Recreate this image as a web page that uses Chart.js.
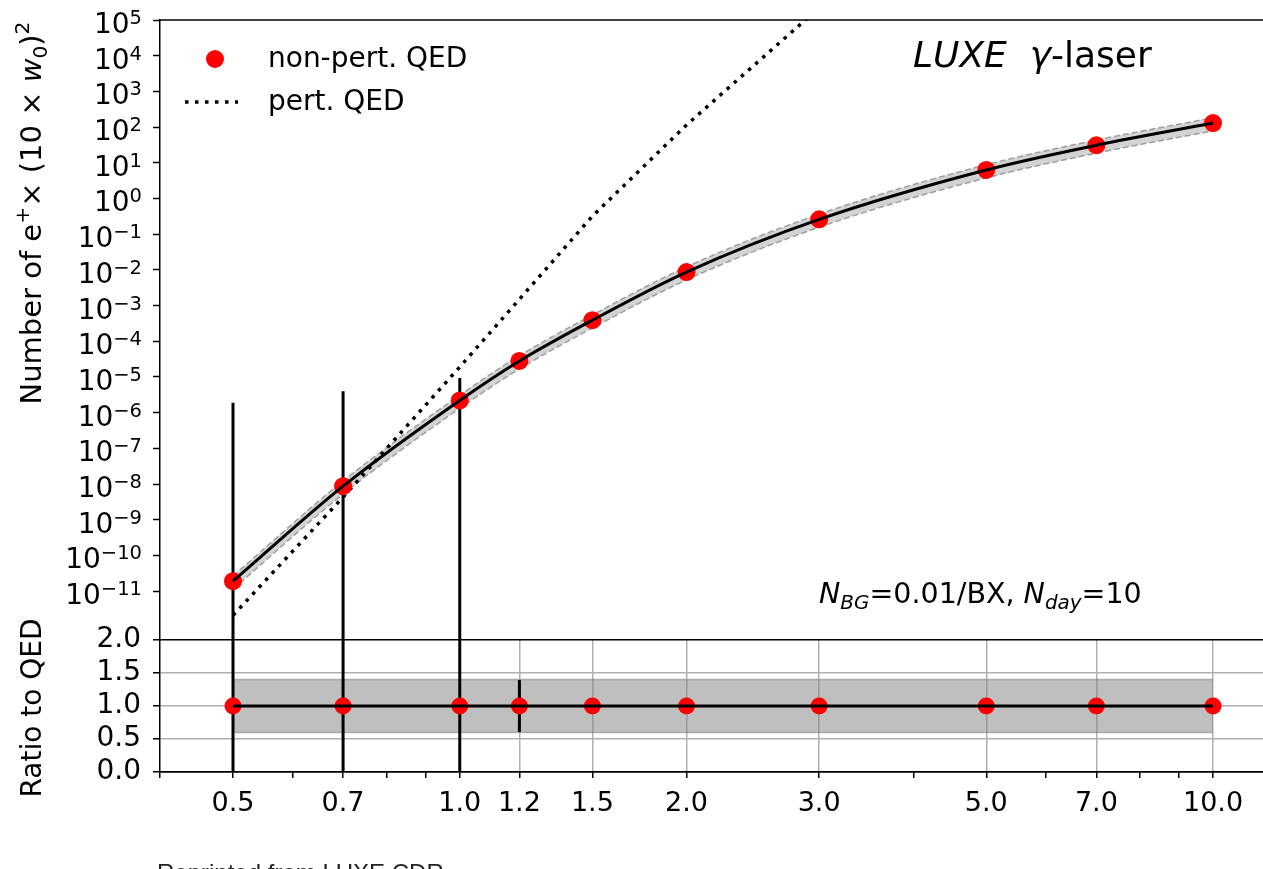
<!DOCTYPE html>
<html>
<head>
<meta charset="utf-8">
<script src="https://cdn.jsdelivr.net/npm/chart.js@4.4.1/dist/chart.umd.min.js"></script>
<style>
html, body { margin: 0; padding: 0; background: #fff; }
#wrap { position: relative; width: 1263px; height: 869px; overflow: hidden; }
canvas { position: absolute; left: 0; }
#top { top: 0; }
#bottom { top: 620px; }
</style>
</head>
<body>
<div id="wrap">
  <canvas id="top" width="1263" height="645"></canvas>
  <canvas id="bottom" width="1263" height="249"></canvas>
</div>
<script>
// laser intensity xi and positron yield (non-perturbative QED)
const xi = [0.5, 0.7, 1.0, 1.2, 1.5, 2.0, 3.0, 5.0, 7.0, 10.0];
const nonPert = [1.9e-11, 8.7e-9, 2.2e-6, 2.8e-5, 3.9e-4, 8.7e-3, 0.26, 6.3, 31, 130];
// relative uncertainty band
const bandLo = [0.6, 0.6, 0.6, 0.6, 0.6, 0.6, 0.6, 0.6, 0.6, 0.6];
const bandHi = [1.4, 1.4, 1.4, 1.4, 1.4, 1.4, 1.4, 1.4, 1.4, 1.4];
// ratio of non-pert to QED
const ratio = [1, 1, 1, 1, 1, 1, 1, 1, 1, 1];
// perturbative QED
const pertX = [0.5, 0.7, 1.0, 1.2, 1.5, 2.0, 3.0];
const pert = [2.1e-12, 4.3e-9, 1.9e-5, 1.5e-3, 0.32, 115, 2.2e5];
// statistical error bars (background-limited)
const errX = [0.5, 0.7, 1.0, 1.2];
const errLo = [1e-13, 1e-13, 1e-13, 1.7e-5];
const errHi = [1.9e-6, 4.0e-6, 9.3e-6, 3.9e-5];
// ticks
const yTickExps = [-11, -10, -9, -8, -7, -6, -5, -4, -3, -2, -1, 0, 1, 2, 3, 4, 5];
const ratioTicks = [0, 0.5, 1.0, 1.5, 2.0];
const xTicks = [0.5, 0.7, 1.0, 1.2, 1.5, 2.0, 3.0, 5.0, 7.0, 10.0];
const xMinorTicks = [0.4, 0.6, 0.8, 0.9, 4, 6, 8, 9];

const F = "'DejaVu Sans'";
Chart.defaults.font.family = F;
Chart.defaults.color = '#000';

function drawRuns(ctx, runs, x, y, size) {
  for (const [t, k] of runs) {
    const small = k === 'sup' || k === 'sub' || k === 'isub';
    const ital = k === 'i' || k === 'isub';
    ctx.font = (ital ? 'italic ' : '') + (small ? size * 0.7 : size) + 'px ' + F;
    let dy = 0;
    if (k === 'sup') dy = -size * 0.4;
    if (k === 'sub' || k === 'isub') dy = size * 0.2;
    ctx.fillText(t, x, y + dy);
    x += ctx.measureText(t).width;
  }
  return x;
}
function runsWidth(ctx, runs, size) {
  let w = 0;
  for (const [t, k] of runs) {
    const small = k === 'sup' || k === 'sub' || k === 'isub';
    const ital = k === 'i' || k === 'isub';
    ctx.font = (ital ? 'italic ' : '') + (small ? size * 0.7 : size) + 'px ' + F;
    w += ctx.measureText(t).width;
  }
  return w;
}

const pts = (xs, ys) => xs.map((x, i) => ({ x: x, y: ys[i] }));
const valAt = x => nonPert[xi.indexOf(x)];

// ---------- top panel ----------
const topSets = [
  { data: pts(xi, nonPert), borderColor: '#000', borderWidth: 3, pointRadius: 0,
    cubicInterpolationMode: 'monotone', order: 0 },
  { data: pts(xi, nonPert), showLine: false, pointRadius: 9, pointBorderWidth: 0,
    pointBackgroundColor: '#ff0000', order: 1 },
  { data: pts(pertX, pert), borderColor: '#000', borderWidth: 3.5, borderDash: [3.5, 6],
    pointRadius: 0, order: 3 },
  { data: xi.map((x, i) => ({ x: x, y: nonPert[i] * bandHi[i] })), borderColor: 'rgba(128,128,128,0.7)',
    borderWidth: 1.5, borderDash: [6, 3], pointRadius: 0, cubicInterpolationMode: 'monotone',
    fill: '+1', backgroundColor: 'rgba(128,128,128,0.35)', order: 4 },
  { data: xi.map((x, i) => ({ x: x, y: nonPert[i] * bandLo[i] })), borderColor: 'rgba(128,128,128,0.7)',
    borderWidth: 1.5, borderDash: [6, 3], pointRadius: 0, cubicInterpolationMode: 'monotone', order: 5 }
];
errX.forEach((x, i) => {
  topSets.push({ data: [{ x: x, y: errLo[i] }, { x: x, y: errHi[i] }], borderColor: '#000',
    borderWidth: 3, pointRadius: 0, order: 2 });
});

const topDecor = {
  id: 'topDecor',
  afterDraw(chart) {
    const ctx = chart.ctx, a = chart.chartArea, ys = chart.scales.y;
    ctx.save();
    ctx.strokeStyle = '#000'; ctx.lineWidth = 1.5;
    ctx.beginPath(); ctx.moveTo(a.left, a.top); ctx.lineTo(a.right, a.top); ctx.stroke();
    ctx.fillStyle = '#000';
    ctx.textBaseline = 'alphabetic'; ctx.textAlign = 'left';
    // y tick labels 10^n
    yTickExps.forEach(e => {
      const py = ys.getPixelForValue(Math.pow(10, e));
      const exp = e < 0 ? '\u2212' + (-e) : String(e);
      ctx.font = '19.5px ' + F; const we = ctx.measureText(exp).width;
      ctx.font = '28px ' + F; const wb = ctx.measureText('10').width;
      const x0 = 142 - we - wb;
      ctx.fillText('10', x0, py + 13);
      ctx.font = '19.5px ' + F; ctx.fillText(exp, x0 + wb, py + 4);
    });
    // y axis title
    const yt = [['Number of e', 'n'], ['+', 'sup'], ['\u00d7 (10 \u00d7 ', 'n'], ['w', 'i'],
                ['0', 'sub'], [')', 'n'], ['2', 'sup']];
    ctx.save(); ctx.translate(41, 213); ctx.rotate(-Math.PI / 2);
    drawRuns(ctx, yt, -runsWidth(ctx, yt, 29) / 2, 0, 29);
    ctx.restore();
    // legend
    ctx.beginPath(); ctx.arc(215, 59, 9, 0, Math.PI * 2); ctx.fillStyle = '#ff0000'; ctx.fill();
    ctx.setLineDash([3.5, 6.5]); ctx.lineWidth = 3.5; ctx.strokeStyle = '#000';
    ctx.beginPath(); ctx.moveTo(185, 102); ctx.lineTo(238, 102); ctx.stroke();
    ctx.setLineDash([]);
    ctx.fillStyle = '#000'; ctx.font = '28px ' + F;
    ctx.fillText('non-pert. QED', 268, 67);
    ctx.fillText('pert. QED', 268, 110);
    // title and annotation
    drawRuns(ctx, [['LUXE', 'i'], ['  ', 'n'], ['\u03b3', 'i'], ['-laser', 'n']], 913, 67, 36);
    drawRuns(ctx, [['N', 'i'], ['BG', 'isub'], ['=0.01/BX, ', 'n'], ['N', 'i'], ['day', 'isub'], ['=10', 'n']],
      819, 603, 28.5);
    ctx.restore();
  }
};

new Chart(document.getElementById('top'), {
  type: 'line',
  data: { datasets: topSets },
  options: {
    responsive: false, animation: false, events: [],
    layout: { padding: { top: 20, bottom: 5, left: 0, right: 0 }, autoPadding: false },
    plugins: { legend: { display: false }, tooltip: { enabled: false } },
    scales: {
      x: { type: 'logarithmic', min: 0.4, max: 11.65, display: false },
      y: {
        type: 'logarithmic', min: 4.27e-13, max: 1e5,
        afterBuildTicks: s => { s.ticks = yTickExps.map(e => ({ value: Math.pow(10, e) })); },
        afterFit: s => { s.width = 160; s.paddingTop = 0; s.paddingBottom = 0; },
        ticks: { display: false },
        grid: { drawOnChartArea: false, drawTicks: true, tickLength: 7, tickColor: '#000', tickWidth: 1.5 },
        border: { display: true, color: '#000', width: 1.5 }
      }
    }
  },
  plugins: [topDecor]
});

// ---------- ratio panel ----------
const botSets = [
  { data: pts(xi, ratio), borderColor: '#000', borderWidth: 3, pointRadius: 0, order: 0 },
  { data: pts(xi, ratio), showLine: false, pointRadius: 8.5, pointBorderWidth: 0,
    pointBackgroundColor: '#ff0000', order: 1 },
  { data: pts(xi, bandHi), borderColor: 'rgba(128,128,128,0.55)', borderWidth: 1.5, pointRadius: 0,
    fill: '+1', backgroundColor: 'rgba(128,128,128,0.5)', order: 4 },
  { data: pts(xi, bandLo), borderColor: 'rgba(128,128,128,0.55)', borderWidth: 1.5, pointRadius: 0, order: 5 }
];
errX.forEach((x, i) => {
  botSets.push({ data: [{ x: x, y: errLo[i] / valAt(x) }, { x: x, y: errHi[i] / valAt(x) }],
    borderColor: '#000', borderWidth: 3, pointRadius: 0, order: 2 });
});

const botDecor = {
  id: 'botDecor',
  afterDraw(chart) {
    const ctx = chart.ctx;
    ctx.save();
    ctx.fillStyle = '#000'; ctx.textBaseline = 'alphabetic'; ctx.textAlign = 'left';
    const yt = [['Ratio to QED', 'n']];
    ctx.save(); ctx.translate(41, 88); ctx.rotate(-Math.PI / 2);
    drawRuns(ctx, yt, -runsWidth(ctx, yt, 28) / 2, 0, 28);
    ctx.restore();
    ctx.fillStyle = '#222'; ctx.font = "24px 'Liberation Sans'";
    ctx.fillText('Reprinted from LUXE CDR', 157, 261);
    ctx.restore();
  }
};

const allX = xMinorTicks.concat(xTicks).sort((a, b) => a - b);

new Chart(document.getElementById('bottom'), {
  type: 'line',
  data: { datasets: botSets },
  options: {
    responsive: false, animation: false, events: [],
    layout: { padding: { top: 20, bottom: 0, left: 0, right: 0 }, autoPadding: false },
    plugins: { legend: { display: false }, tooltip: { enabled: false } },
    scales: {
      x: {
        type: 'logarithmic', min: 0.4, max: 11.65,
        afterBuildTicks: s => { s.ticks = allX.map(v => ({ value: v })); },
        afterFit: s => { s.height = 97; s.paddingLeft = 0; s.paddingRight = 0; },
        ticks: { autoSkip: false, maxRotation: 0, minRotation: 0, padding: 10, font: { size: 27 },
          callback: v => xTicks.includes(v) ? v.toFixed(1) : '' },
        grid: {
          color: c => (c.tick && xTicks.includes(c.tick.value)) ? '#b0b0b0' : 'rgba(0,0,0,0)',
          lineWidth: 1.5, tickColor: '#000', tickLength: 6, tickWidth: 1.5
        },
        border: { display: true, color: '#000', width: 1.5 }
      },
      y: {
        type: 'linear', min: 0, max: 2,
        afterBuildTicks: s => { s.ticks = ratioTicks.map(v => ({ value: v })); },
        afterFit: s => { s.width = 160; s.paddingTop = 0; s.paddingBottom = 0; },
        ticks: { autoSkip: false, padding: 12, font: { size: 28 }, callback: v => v.toFixed(1) },
        grid: {
          color: c => (c.tick && (c.tick.value === 0 || c.tick.value === 2)) ? '#000' : '#b0b0b0',
          lineWidth: 1.5, tickColor: '#000', tickLength: 7, tickWidth: 1.5
        },
        border: { display: true, color: '#000', width: 1.5 }
      }
    }
  },
  plugins: [botDecor]
});
</script>
</body>
</html>
